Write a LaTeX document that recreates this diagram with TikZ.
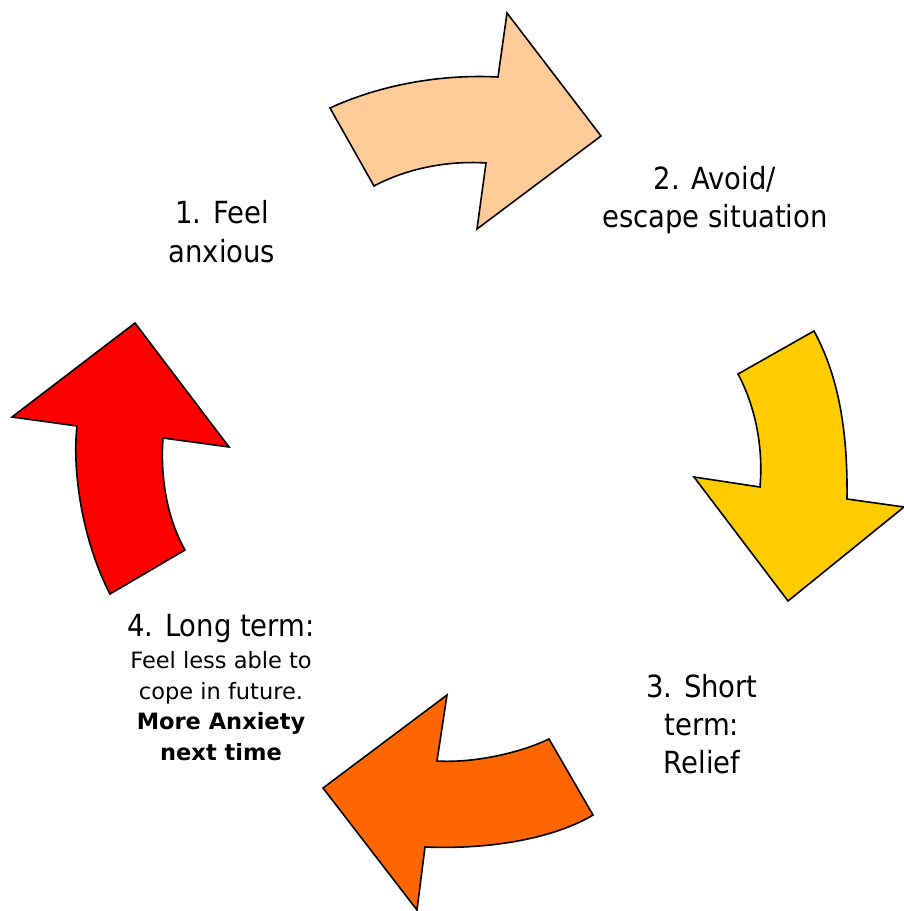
\documentclass[tikz,border=0pt]{standalone}
\usepackage{fontspec}
\IfFontExistsTF{DejaVu Sans Condensed}
  {\newfontfamily\bigfont{DejaVu Sans Condensed}}
  {\newfontfamily\bigfont{DejaVu Sans}[FakeStretch=0.9]}
\newfontfamily\smallfont{DejaVu Sans}
\definecolor{peach}{HTML}{FFCC99}
\definecolor{gold}{HTML}{FFCC00}
\definecolor{orangeA}{HTML}{FF6600}
\definecolor{redA}{HTML}{FF0000}
\tikzset{
  bentarrow/.style={draw=black, line width=1.6pt, line join=miter},
  biglabel/.style={align=center, inner sep=0pt, anchor=base, font=\bigfont\fontsize{30.5}{38}\selectfont},
}
\begin{document}
\begin{tikzpicture}[x=1pt,y=-1pt]
\path[use as bounding box] (0,0) rectangle (904,911);
% arrow 1: peach
\path[bentarrow, fill=peach] (330,108) .. controls (380,85) and (440,74) .. (498,77)
  -- (507,13) -- (601,136) -- (477,229) -- (486,163)
  .. controls (440,160) and (400,172) .. (374,186) -- cycle;
% arrow 2: yellow
\path[bentarrow, fill=gold] (738,374) -- (814,331)
  .. controls (835,370) and (848,420) .. (847,499)
  -- (904,507) -- (788,601) -- (694,477) -- (760,487)
  .. controls (764,440) and (752,400) .. (738,374) -- cycle;
% arrow 3: orange
\path[bentarrow, fill=orangeA] (549,739) -- (593,815)
  .. controls (560,835) and (500,850) .. (425,847)
  -- (417,910) -- (323,788) -- (447,695) -- (437,761)
  .. controls (470,763) and (515,755) .. (549,739) -- cycle;
% arrow 4: red
\path[bentarrow, fill=redA] (110,594) -- (185,550)
  .. controls (168,520) and (160,480) .. (163,438)
  -- (229,447) -- (135,323) -- (12,417) -- (77,426)
  .. controls (72,470) and (82,540) .. (110,594) -- cycle;
% labels (anchor=base is the baseline of the last line)
\node[biglabel, font=\bigfont\fontsize{30.5}{39}\selectfont] (l1) at (222,262) {1. Feel\\anxious};
\node[biglabel] (l2) at (715,227) {2. Avoid/\\escape situation};
\node[biglabel] (l3) at (702,773) {3. Short\\term:\\Relief};
\node[align=center, inner sep=0pt, anchor=base, font=\smallfont\fontsize{22.5}{30.5}\selectfont] (l4) at (221,760)
  {{\bigfont\fontsize{30.5}{38}\selectfont 4. Long term:}\\[2pt]Feel less able to\\cope in future.\\\textbf{More Anxiety}\\\textbf{next time}};
\end{tikzpicture}
\end{document}
